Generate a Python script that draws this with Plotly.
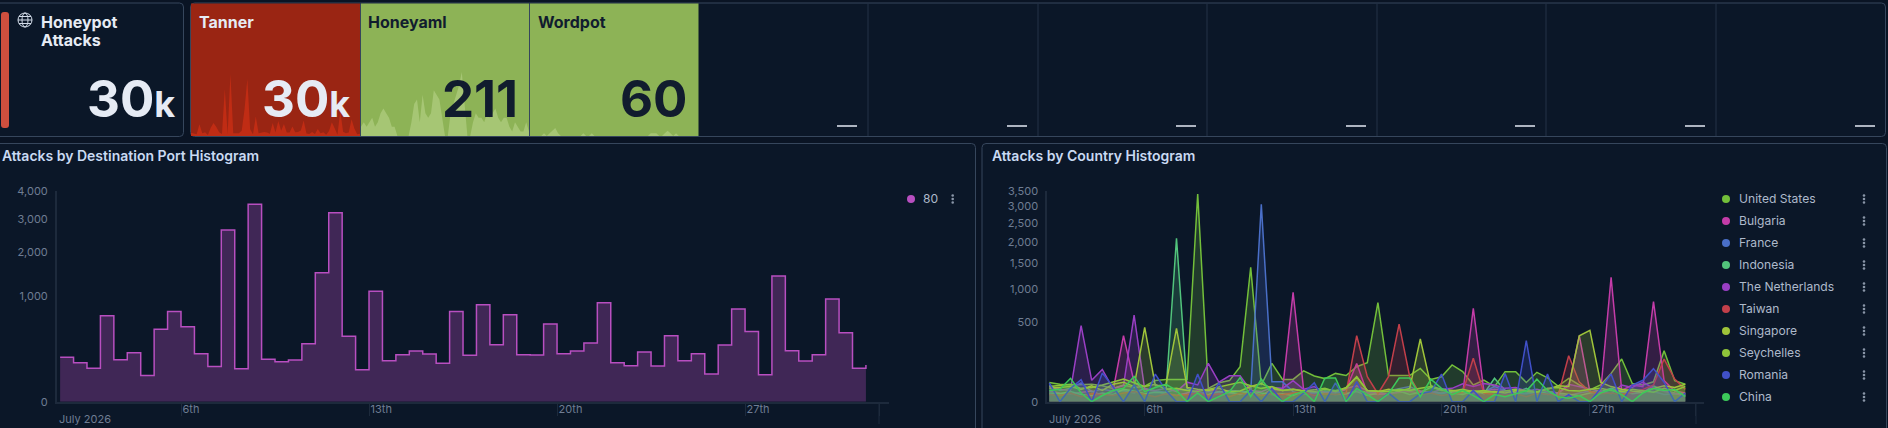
import pandas as pd
import numpy as np
import plotly.graph_objects as go

W, H = 1888, 428
FONT = "Inter"

# 12h buckets, all series share them
bucket_times = pd.date_range("2026-07-01 12:00", periods=61, freq="12h")

# Data: attacks on port 80 (also what the Tanner sparkline shows)
port_80 = [177, 137, 100, 665, 158, 216, 62, 470, 733, 505, 207, 112, 2648, 98, 3499, 161, 144, 156, 302, 1495,
           3210, 384, 92, 1094, 151, 198, 231, 204, 132, 733, 193, 845, 292, 680, 198, 196, 542, 207, 231, 309,
           881, 137, 116, 222, 114, 391, 151, 207, 69, 289, 772, 444, 65, 1419, 234, 149, 198, 947, 428, 100, 121]

honeyaml = [2, 3, 2, 3, 4, 2, 3, 5, 6, 5, 4, 2, 2, 0, 0, 0, 0, 0, 3, 7, 8, 3, 9, 5, 4, 5, 10, 9, 8, 4, 0,
            0, 5, 7, 9, 11, 14, 7, 0, 0, 3, 5, 4, 4, 3, 5, 4, 5, 6, 4, 3, 4, 4, 2, 1, 3, 2, 1, 1, 3, 1]

wordpot = [0, 0, 0, 0, 0, 1, 0, 1, 2, 3, 1, 0, 0, 0, 0, 0, 0, 0, 0, 1, 0, 0, 1, 0, 0, 0, 0, 0, 0, 0, 0,
           0, 0, 0, 0, 0, 0, 0, 0, 0, 0, 0, 0, 1, 1, 1, 0, 0, 1, 2, 1, 0, 1, 0, 0, 0, 0, 0, 0, 0, 0]

# Data: attacks by country
united_states = [29, 24, 22, 22, 24, 20, 14, 22, 16, 19, 35, 39, 39, 39, 3390, 14, 28, 35, 96, 1419,
                 22, 115, 39, 39, 75, 52, 42, 63, 54, 96, 120, 770, 54, 54, 54, 87, 39, 49, 106, 71,
                 22, 37, 18, 71, 71, 29, 68, 45, 19, 43, 22, 11, 22, 63, 143, 26, 22, 31, 204, 35, 24]
bulgaria = [9, 6, 5, 7, 9, 3, 8, 342, 30, 12, 8, 5, 3, 6, 10, 12, 8, 6, 4, 9, 3, 12, 10, 940, 10,
            6, 8, 6, 12, 115, 6, 4, 5, 6, 8, 6, 7, 6, 8, 5, 685, 9, 12, 10, 6, 5, 7, 4, 6, 20,
            342, 8, 5, 1215, 10, 22, 18, 786, 35, 9, 6]
france = [22, 10, 14, 28, 8, 12, 9, 10, 6, 14, 9, 7, 12, 11, 5, 8, 6, 10, 9, 7, 3061, 31, 31, 8, 4,
          6, 9, 8, 5, 10, 7, 6, 9, 14, 18, 8, 6, 5, 9, 7, 5, 8, 18, 10, 4, 6, 7, 5, 4, 3,
          6, 9, 5, 12, 7, 6, 10, 8, 4, 5, 3]
indonesia = [6, 5, 8, 4, 3, 6, 4, 12, 9, 5, 7, 6, 2097, 14, 6, 4, 8, 7, 5, 10, 6, 4, 5, 3, 9,
             7, 6, 4, 5, 8, 3, 6, 5, 9, 4, 7, 16, 12, 6, 4, 9, 5, 43, 10, 7, 14, 5, 8, 6, 4,
             3, 6, 8, 14, 9, 5, 7, 20, 10, 6, 4]
netherlands = [18, 12, 10, 454, 36, 82, 14, 20, 590, 12, 10, 14, 8, 30, 22, 115, 30, 53, 53, 10, 8, 16, 14, 35, 12,
               18, 6, 8, 14, 20, 10, 6, 4, 8, 12, 9, 6, 12, 14, 25, 18, 26, 22, 14, 16, 9, 12, 8, 6, 24,
               18, 12, 8, 5, 22, 16, 30, 14, 8, 5, 3]
taiwan = [4, 3, 6, 2, 5, 4, 3, 6, 8, 4, 2, 5, 3, 4, 6, 3, 5, 2, 6, 4, 3, 5, 4, 6, 7,
          3, 5, 4, 6, 342, 49, 5, 49, 474, 49, 4, 6, 3, 5, 7, 148, 6, 4, 3, 5, 2, 6, 4, 3, 166,
          30, 8, 5, 6, 4, 7, 12, 22, 143, 40, 12]
singapore = [14, 16, 18, 12, 20, 10, 24, 30, 18, 434, 20, 22, 423, 16, 12, 10, 14, 8, 9, 18, 26, 14, 10, 12, 9,
             11, 14, 8, 16, 49, 10, 8, 12, 9, 14, 309, 20, 12, 10, 8, 9, 7, 8, 6, 10, 9, 7, 12, 20, 18,
             342, 400, 30, 18, 12, 9, 7, 14, 20, 16, 24]
seychelles = [18, 20, 24, 14, 16, 22, 30, 40, 28, 18, 24, 12, 14, 10, 8, 12, 16, 22, 30, 20, 14, 18, 10, 12, 9,
              8, 12, 10, 14, 48, 10, 9, 8, 12, 10, 14, 18, 10, 9, 12, 8, 10, 7, 9, 12, 10, 8, 14, 16, 10,
              9, 12, 14, 10, 8, 12, 9, 7, 14, 10, 18]
romania = [28, 0, 14, 38, 0, 65, 18, 0, 22, 0, 60, 10, 0, 0, 60, 0, 28, 0, 0, 10, 0, 14, 0, 0, 6,
           28, 0, 28, 0, 32, 0, 0, 6, 0, 0, 5, 8, 60, 0, 0, 10, 0, 0, 62, 0, 293, 0, 60, 0, 4,
           0, 0, 14, 60, 0, 22, 36, 86, 30, 0, 6]
china = [10, 12, 43, 6, 0, 3, 10, 14, 50, 8, 16, 24, 10, 0, 6, 0, 2, 8, 46, 2, 40, 6, 0, 4, 8,
         0, 44, 44, 0, 14, 4, 0, 5, 44, 44, 2, 40, 14, 4, 10, 3, 0, 4, 2, 5, 9, 40, 10, 2, 1,
         3, 0, 6, 12, 4, 0, 6, 14, 10, 12, 2]

countries = ["United States", "Bulgaria", "France", "Indonesia", "The Netherlands",
             "Taiwan", "Singapore", "Seychelles", "Romania", "China"]
country_values = [united_states, bulgaria, france, indonesia, netherlands,
                  taiwan, singapore, seychelles, romania, china]
country_colors = ["#73bf3a", "#c43ca8", "#4a6fc8", "#52c47c", "#9a3fc4",
                  "#c23f4a", "#9fc43a", "#8fc43a", "#4050c8", "#3cc95a"]

port_ticks = [0, 1000, 2000, 3000, 4000]
country_ticks = [0, 500, 1000, 1500, 2000, 2500, 3000, 3500]
date_ticks = ["2026-07-06", "2026-07-13", "2026-07-20", "2026-07-27", "2026-08-01"]
date_labels = ["6th", "13th", "20th", "27th", ""]

BG = "#0a1424"
PANEL = "#0b1728"
BORDER = "#36465c"
AXIS = "#1d2a3c"
TICK_TEXT = "#6f7d93"
LEGEND_TEXT = "#aebacb"
TITLE_TEXT = "#c9daf3"
RED = "#9a2513"
GREEN = "#8db356"


def px(x):
    return x / W


def py(y):
    return 1 - y / H


def round_rect(x0, y0, x1, y1, r):
    return (f"M {px(x0 + r)} {py(y0)} L {px(x1 - r)} {py(y0)} Q {px(x1)} {py(y0)} {px(x1)} {py(y0 + r)} "
            f"L {px(x1)} {py(y1 - r)} Q {px(x1)} {py(y1)} {px(x1 - r)} {py(y1)} "
            f"L {px(x0 + r)} {py(y1)} Q {px(x0)} {py(y1)} {px(x0)} {py(y1 - r)} "
            f"L {px(x0)} {py(y0 + r)} Q {px(x0)} {py(y0)} {px(x0 + r)} {py(y0)} Z")


def rgba(hex_color, alpha):
    r, g, b = int(hex_color[1:3], 16), int(hex_color[3:5], 16), int(hex_color[5:7], 16)
    return f"rgba({r},{g},{b},{alpha})"


def time_at(x, x_6th, per_day):
    return pd.Timestamp("2026-07-06") + pd.Timedelta(days=(x - x_6th) / per_day)


shapes = []
annotations = []


def rect(x0, y0, x1, y1, fill):
    shapes.append(dict(type="rect", xref="paper", yref="paper", x0=px(x0), x1=px(x1), y0=py(y1), y1=py(y0),
                       fillcolor=fill, line_width=0, layer="below"))


def vline(x, y0, y1, color, width=1):
    shapes.append(dict(type="line", xref="paper", yref="paper", x0=px(x), x1=px(x), y0=py(y0), y1=py(y1),
                       line=dict(color=color, width=width), layer="below"))


def dot(x, y, r, color):
    shapes.append(dict(type="circle", xref="paper", yref="paper", x0=px(x - r), x1=px(x + r),
                       y0=py(y + r), y1=py(y - r), fillcolor=color, line_width=0))


def text(x, y, s, size, color, anchor="left", valign="middle", weight=400):
    annotations.append(dict(xref="paper", yref="paper", x=px(x), y=py(y), text=s, showarrow=False,
                            xanchor=anchor, yanchor=valign, align=anchor,
                            font=dict(family=FONT, size=size, color=color, weight=weight),
                            borderpad=0, borderwidth=0))


def menu_dots(x, y):
    for off in (-3.5, 0, 3.5):
        dot(x, y + off, 1.3, "#8a96a8")


def panel(x0, y0, x1, y1):
    shapes.append(dict(type="path", path=round_rect(x0, y0, x1, y1, 4), xref="paper", yref="paper",
                       fillcolor=PANEL, line=dict(color=BORDER, width=1), layer="below"))


# Panels
panel(-6, 3, 183.5, 136.5)
panel(190.5, 3, 1885.5, 136.5)
panel(-6, 143.5, 975.5, 450)
panel(982, 143.5, 1886.5, 450)

# Coloured tiles
rect(191, 3.5, 360, 136, RED)
rect(361, 3.5, 529, 136, GREEN)
rect(530, 3.5, 698.5, 136, GREEN)
vline(360.5, 3.5, 136, BORDER)
vline(529.5, 3.5, 136, BORDER)
for x in [868, 1038, 1207, 1377, 1546, 1716]:
    vline(x, 3.5, 136, "#243246")
for x in [857, 1027, 1196, 1366, 1535, 1705, 1875]:
    shapes.append(dict(type="line", xref="paper", yref="paper", x0=px(x - 20), x1=px(x), y0=py(126), y1=py(126),
                       line=dict(color="#e6ebf4", width=1.5)))

# Left red bar and globe icon
shapes.append(dict(type="path", path=round_rect(1, 12, 9, 128, 3), xref="paper", yref="paper",
                   fillcolor="#cf4f3e", line_width=0))
for rx in (7, 3):
    shapes.append(dict(type="circle", xref="paper", yref="paper", x0=px(25 - rx), x1=px(25 + rx),
                       y0=py(27), y1=py(13), line=dict(color="#d5deeb", width=1)))
for yy, half in ((20, 7), (16.5, 6), (23.5, 6)):
    shapes.append(dict(type="line", xref="paper", yref="paper", x0=px(25 - half), x1=px(25 + half),
                       y0=py(yy), y1=py(yy), line=dict(color="#d5deeb", width=1)))

# Tile text
text(41, 22, "Honeypot", 16, "#e6ebf4", weight=700)
text(41, 40, "Attacks", 16, "#e6ebf4", weight=700)
text(199, 22, "Tanner", 16, "#e6ebf4", weight=700)
text(368, 22, "Honeyaml", 16, "#111c2e", weight=700)
text(538, 22, "Wordpot", 16, "#111c2e", weight=700)
k = '<span style="font-size:36px">k</span>'
text(175, 128.5, "30" + k, 51, "#e6ebf4", "right", "bottom", 700)
text(350, 128.5, "30" + k, 51, "#e6ebf4", "right", "bottom", 700)
text(517.5, 128.5, "211", 51, "#111c2e", "right", "bottom", 700)
text(688, 128.5, "60", 51, "#111c2e", "right", "bottom", 700)

# Panel titles
text(2, 156, "Attacks by Destination Port Histogram", 14, TITLE_TEXT, weight=600)
text(991.5, 156, "Attacks by Country Histogram", 14, TITLE_TEXT, weight=600)

# July labels and the end-of-axis tick
text(59, 419, "July 2026", 11, TICK_TEXT)
text(1049, 419, "July 2026", 11, TICK_TEXT)
vline(879, 402, 424, AXIS)
vline(1696, 402, 424, AXIS)

# Legends
dot(911, 199, 4, "#b84fc0")
text(923, 198.3, "80", 12.1, LEGEND_TEXT)
menu_dots(952.7, 199)
for i, name in enumerate(countries):
    yy = 199 + 22 * i
    dot(1726, yy, 4, country_colors[i])
    text(1738.7, yy - 0.7, name, 12.1, LEGEND_TEXT)
    menu_dots(1864, yy)

fig = go.Figure()

# Sparklines, drawn on their own hidden axes
sparks = [(port_80, "#c02c14", 191, 360, 3499, "2", 74),
          (honeyaml, "#a6c674", 361, 529, 14, "3", 72),
          (wordpot, "#a6c674", 530, 698.5, 24, "4", 72)]
for values, color, x0, x1, top, n, y_top in sparks:
    fig.add_trace(go.Scatter(x=bucket_times, y=values, mode="lines", line=dict(color=color, width=0),
                             fill="tozeroy", fillcolor=color, showlegend=False, hoverinfo="skip",
                             xaxis="x" + n, yaxis="y" + n))
    fig.update_layout({
        "xaxis" + n: dict(domain=[px(x0), px(x1)], range=[bucket_times[0], bucket_times[-1]], visible=False,
                          fixedrange=True),
        "yaxis" + n: dict(domain=[py(136), py(y_top)], range=[0, top], visible=False, fixedrange=True),
    })

# Chart 1: step area, y on a sqrt scale
fig.add_trace(go.Scatter(x=bucket_times, y=np.sqrt(port_80), mode="lines",
                         line=dict(color="#b84fc0", width=1.5, shape="hv"),
                         fill="tozeroy", fillcolor="rgba(184,79,192,0.31)", showlegend=False, name="80",
                         xaxis="x", yaxis="y"))

# Chart 2: area lines, y on a sqrt scale
for name, values, color in zip(countries, country_values, country_colors):
    fig.add_trace(go.Scatter(x=bucket_times, y=np.sqrt(values), mode="lines", line=dict(color=color, width=1.5),
                             fill="tozeroy", fillcolor=rgba(color, 0.22), showlegend=False, name=name,
                             xaxis="x5", yaxis="y5"))


def x_axis(x0, x1, x_6th, per_day, anchor):
    return dict(domain=[px(x0), px(x1)], range=[time_at(x0, x_6th, per_day), time_at(x1, x_6th, per_day)],
                type="date", anchor=anchor, tickmode="array", tickvals=date_ticks, ticktext=date_labels,
                ticks="outside", ticklen=12, tickwidth=1, tickcolor=AXIS, ticklabelposition="outside right",
                ticklabelstandoff=-4,
                tickfont=dict(family=FONT, size=11, color=TICK_TEXT), showgrid=False, showline=True, linecolor=AXIS,
                linewidth=2, zeroline=False, fixedrange=True)


def y_axis(ticks, anchor):
    return dict(domain=[py(401.7), py(190.7)], range=[0, np.sqrt(ticks[-1])], anchor=anchor, tickmode="array",
                tickvals=np.sqrt(ticks).tolist(), ticktext=[f"{t:,}" for t in ticks], ticks="", showgrid=False,
                ticklabelstandoff=5,
                tickfont=dict(family=FONT, size=11, color=TICK_TEXT), showline=True, linecolor=AXIS, linewidth=2,
                zeroline=False, fixedrange=True)


fig.update_layout(
    width=W, height=H,
    margin=dict(l=0, r=0, t=0, b=0, autoexpand=False),
    paper_bgcolor=BG, plot_bgcolor="rgba(0,0,0,0)",
    xaxis=x_axis(57, 889, 181, 26.86, "y"),
    yaxis=y_axis(port_ticks, "x"),
    xaxis5=x_axis(1047.3, 1704, 1144.7, 21.2, "y5"),
    yaxis5=y_axis(country_ticks, "x5"),
    shapes=shapes,
    annotations=annotations,
    hovermode=False,
    showlegend=False,
    font=dict(family=FONT),
)

fig.write_html("out.html", config=dict(displayModeBar=False),
               post_script="document.body.style.margin='0';document.body.style.background='" + BG + "';document.body.style.overflow='hidden';")
